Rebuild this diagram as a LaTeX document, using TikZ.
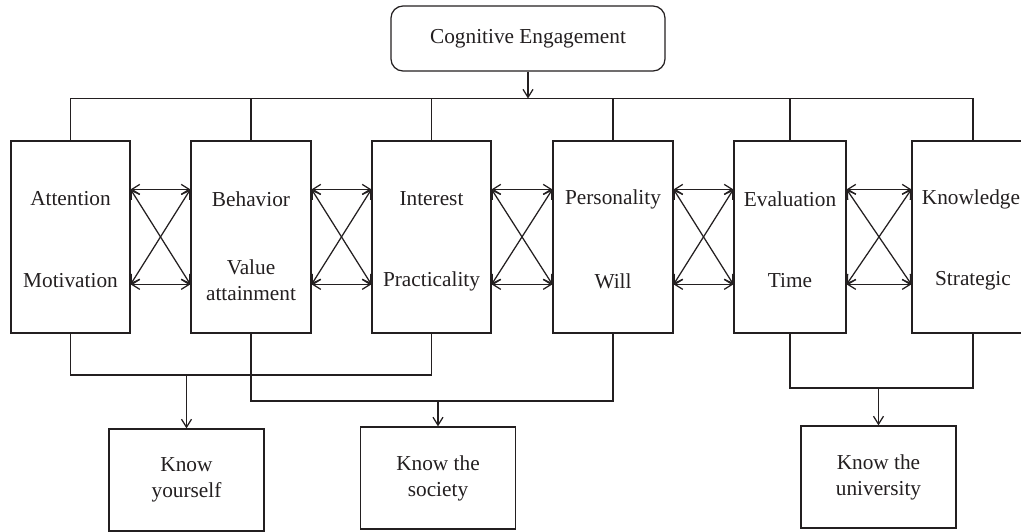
\documentclass[tikz,border=0pt]{standalone}
\usepackage{fontspec}
\setmainfont{Liberation Serif}
\usetikzlibrary{arrows.meta,calc}
\definecolor{ink}{HTML}{231F20}
\begin{document}
\begin{tikzpicture}[x=1pt,y=-1pt,
  line width=1.25pt, draw=ink, color=ink,
  >={Straight Barb[length=8pt,width=10pt]},
  font=\fontsize{21.3}{26}\selectfont,
  bigbox/.style={draw, minimum height=192pt, inner sep=0pt},
  outbox/.style={draw, minimum width=155pt, minimum height=102pt, inner sep=0pt, align=center},
  lbl/.style={inner sep=0pt, align=center}]
\useasboundingbox (0,0) rectangle (1021,531);
\clip (0,0) rectangle (1021,531);
% top node
\node[draw, rounded corners=12pt, minimum width=274pt, minimum height=65pt, inner sep=0pt] (ce) at (528,38.5) {Cognitive Engagement};
% main boxes
\node[bigbox, minimum width=119pt] (b1) at (70.5,237) {};
\node[bigbox, minimum width=120pt] (b2) at (251,237) {};
\node[bigbox, minimum width=119pt] (b3) at (431.5,237) {};
\node[bigbox, minimum width=120pt] (b4) at (613,237) {};
\node[bigbox, minimum width=112pt] (b5) at (790,237) {};
\node[bigbox, minimum width=122pt] (b6) at (973,237) {};
% labels
\node[lbl] (t1a) at (70.5,199) {Attention};
\node[lbl] (t1b) at (70.5,281) {Motivation};
\node[lbl] (t2a) at (251,199) {Behavior};
\node[lbl] (t2b) at (251,280) {Value\\attainment};
\node[lbl] (t3a) at (431.5,199) {Interest};
\node[lbl] (t3b) at (431.5,281) {Practicality};
\node[lbl] (t4a) at (613,199) {Personality};
\node[lbl] (t4b) at (613,281) {Will};
\node[lbl] (t5a) at (790,199) {Evaluation};
\node[lbl] (t5b) at (790,281) {Time};
\node[lbl] (t6a) at (971,199) {Knowledge};
\node[lbl] (t6b) at (973,281) {Strategic};
% outcome boxes
\node[outbox] (ky) at (186.5,480) {Know\\yourself};
\node[outbox] (ks) at (438,478) {Know the\\society};
\node[outbox] (ku) at (878.5,477) {Know the\\university};
% top distribution
\coordinate (top) at (528,98.5);
\draw[->] (ce.south) -- (top);
\draw (b1.north) |- (top) -| (b6.north);
\foreach \b in {b2,b3,b4,b5} \draw (\b.north) -- (\b.north |- top);
% cross arrows between neighbouring boxes
\foreach \l/\r in {b1/b2,b2/b3,b3/b4,b4/b5,b5/b6}{
  \draw[<->] ($(\l.north east)+(0,49)$) -- ($(\r.north west)+(0,49)$);
  \draw[<->] ($(\l.north east)+(0,144)$) -- ($(\r.north west)+(0,144)$);
  \draw[<->] ($(\l.north east)+(0,49)$) -- ($(\r.north west)+(0,144)$);
  \draw[<->] ($(\l.north east)+(0,144)$) -- ($(\r.north west)+(0,49)$);
}
% bottom groupings
\coordinate (h1) at (186.5,375);
\draw (b1.south) |- (h1) -| (b3.south);
\draw[->] (h1) -- (ky.north);
\coordinate (h2) at (438,401);
\draw (b2.south) |- (h2) -| (b4.south);
\draw[->] (h2) -- (ks.north);
\coordinate (h3) at (878.5,388);
\draw (b5.south) |- (h3) -| (b6.south);
\draw[->] (h3) -- (ku.north);
\end{tikzpicture}
\end{document}
